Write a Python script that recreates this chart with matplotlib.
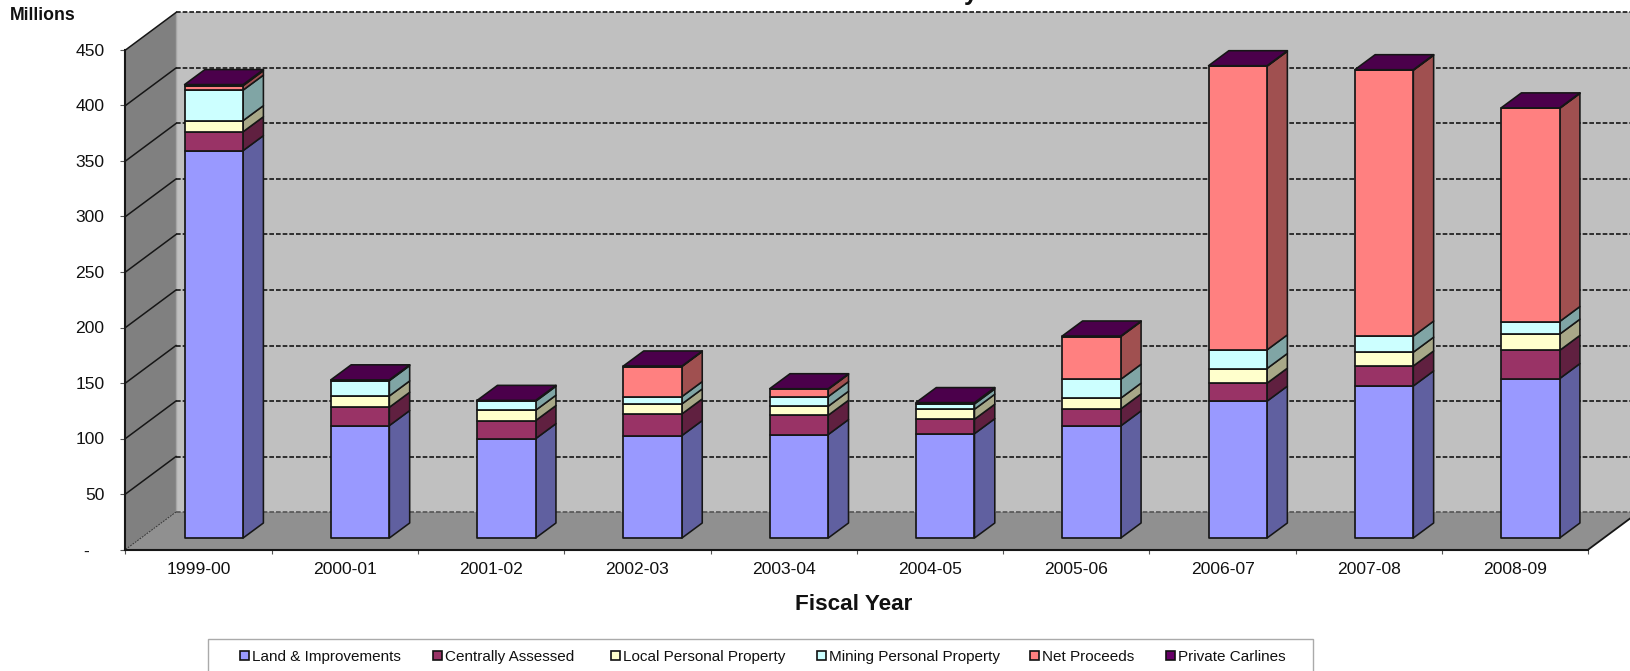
import matplotlib
matplotlib.use("Agg")
import matplotlib.pyplot as plt
from matplotlib.patches import Polygon, Patch, Rectangle

plt.rcParams['font.family'] = ['Liberation Sans', 'DejaVu Sans']

years = ['1999-00', '2000-01', '2001-02', '2002-03', '2003-04',
         '2004-05', '2005-06', '2006-07', '2007-08', '2008-09']
land = [349, 101.3, 89.5, 92.3, 93.2, 94, 101, 123.3, 137, 143.6]
central = [17, 16.5, 16.3, 19.5, 17.4, 13, 15.3, 16.2, 18, 25.4]
local = [10, 10.2, 9.3, 9, 8.1, 9, 9.7, 13.2, 12.4, 14.6]
mining = [27.5, 13.8, 8.1, 6.6, 8.7, 4.8, 17, 16.8, 14.5, 11.4]
net = [4, 0, 0, 27.1, 6.6, 0, 38.5, 255.5, 239.5, 192]
private = [1, 0.7, 0.8, 0.5, 0.5, 1.2, 0.5, 0.5, 0.5, 0.5]
series_names = ['Land & Improvements', 'Centrally Assessed', 'Local Personal Property',
                'Mining Personal Property', 'Net Proceeds', 'Private Carlines']
series = [land, central, local, mining, net, private]
front_colors = ['#9999FF', '#993366', '#FFFFCC', '#CCFFFF', '#FF8080', '#660066']
side_colors = ['#6060A0', '#602040', '#A8A888', '#80A5A5', '#A05050', '#4B004B']
top_color = '#4B004B'
y_ticks = [0, 50, 100, 150, 200, 250, 300, 350, 400, 450]

W, H = 1631, 671
fig = plt.figure(figsize=(W / 100, H / 100), dpi=100, facecolor='white')
L, R, T, B = 125.5, 1588.3, 50.0, 549.5
ax = fig.add_axes([L / W, 1 - B / H, (R - L) / W, (B - T) / H])
ax.set_xlim(0, 10)
ax.set_ylim(0, 450)
ax.patch.set_visible(False)

px_x = 10 / (R - L)
px_y = 450 / (B - T)
wall_dx, wall_dy = 50.5 * px_x, 37.5 * px_y
bar_off_x, bar_off_y = 15.2 * px_x, 11.5 * px_y
bar_dx, bar_dy = 20.3 * px_x, 15 * px_y
bar_w = 0.4
EDGE = '#161616'


def poly(pts, fc, z, ec='none', lw=0.0):
    ax.add_patch(Polygon(pts, closed=True, facecolor=fc, edgecolor=ec, linewidth=lw,
                         clip_on=False, zorder=z, joinstyle='round'))


# walls and floor
poly([(wall_dx, wall_dy), (10 + wall_dx, wall_dy), (10 + wall_dx, 450 + wall_dy), (wall_dx, 450 + wall_dy)], '#C0C0C0', 1)
poly([(0, 0), (wall_dx, wall_dy), (wall_dx, 450 + wall_dy), (0, 450)], '#808080', 1)
poly([(0, 0), (10, 0), (10 + wall_dx, wall_dy), (wall_dx, wall_dy)], '#909090', 1)
ax.plot([wall_dx, wall_dx], [wall_dy, 450 + wall_dy], color='#A6A6A6', lw=1.0, clip_on=False, zorder=1.2)

# gridlines
for v in y_ticks:
    c = '#555555' if v == 0 else '#161616'
    ax.plot([wall_dx, 10 + wall_dx], [v + wall_dy, v + wall_dy], color=c, lw=1.2,
            dashes=(2.8, 1.2), clip_on=False, zorder=1.5)
    if v == 0:
        ax.plot([0, wall_dx], [0, wall_dy], color='#333333', lw=0.7, dashes=(2, 1), clip_on=False, zorder=1.5)
    else:
        ax.plot([0, wall_dx], [v, v + wall_dy], color='#161616', lw=1.1, clip_on=False, zorder=1.5)
ax.plot([10, 10 + wall_dx], [0, wall_dy], color='#161616', lw=1.3, clip_on=False, zorder=1.6)

# stacked pseudo-3D bars
z = 3.0
for i in range(len(years)):
    x0 = i + bar_off_x + (1 - bar_w) / 2
    x1 = x0 + bar_w
    base = bar_off_y
    for s, vals in enumerate(series):
        v = vals[i]
        if v <= 0:
            continue
        top = base + v
        poly([(x1, base), (x1 + bar_dx, base + bar_dy), (x1 + bar_dx, top + bar_dy), (x1, top)],
             side_colors[s], z, EDGE, 1.15)
        poly([(x0, base), (x1, base), (x1, top), (x0, top)], front_colors[s], z + 0.001, EDGE, 1.25)
        z += 0.01
        base = top
    poly([(x0, base), (x1, base), (x1 + bar_dx, base + bar_dy), (x0 + bar_dx, base + bar_dy)],
         top_color, z, EDGE, 1.15)
    z += 0.01

# axes furniture
for sp in ('top', 'right'):
    ax.spines[sp].set_visible(False)
for sp in ('left', 'bottom'):
    ax.spines[sp].set_linewidth(1.5)
    ax.spines[sp].set_color('#161616')
    ax.spines[sp].set_zorder(2.5)
ax.set_yticks(y_ticks)
ax.set_yticklabels(['-   ' if v == 0 else str(v) for v in y_ticks], fontsize=12.6, color='#111111')
ax.tick_params(axis='y', length=3.6, width=0.8, pad=11.5, color='#555555')
ax.set_xticks([i + 0.5 for i in range(len(years))])
ax.set_xticklabels(years, fontsize=12.6, color='#111111')
ax.set_xticks(range(len(years) + 1), minor=True)
ax.tick_params(axis='x', which='major', length=0, pad=9)
ax.tick_params(axis='x', which='minor', length=3.2, width=0.8, color='#555555')

fig.text(854 / W, 1 - 604.5 / H, 'Fiscal Year', fontsize=16.2, fontweight='bold', ha='center', va='center', color='#111111')
fig.text(10.3 / W, 1 - 15.5 / H, 'Millions', fontsize=12.7, fontweight='bold', ha='left', va='center', color='#111111')
# the title is cut off by the top edge: only a descender remains visible
fig.text(971 / W, 1 - 0 / H, 'y', fontsize=18, fontweight='bold', ha='center', va='baseline', color='#111111')

# legend: frame runs off the lower edge; each entry has its own spacing as in the reference
fig.add_artist(Rectangle((208.3 / W, 1 - 675 / H), (1313.3 - 208.3) / W, (675 - 639.3) / H,
                         transform=fig.transFigure, facecolor='white', edgecolor='#AAAAAA', linewidth=1.0))
legend_x = [240, 432.7, 610.7, 817, 1030.5, 1166]
for name, color, lx in zip(series_names, front_colors, legend_x):
    handle = Patch(facecolor=color, edgecolor='#111111', linewidth=1.2)
    fig.legend([handle], [name], frameon=False, loc='center left',
               bbox_to_anchor=(lx / W, 1 - 656.7 / H), borderpad=0, borderaxespad=0,
               fontsize=11, handlelength=0.58, handleheight=0.58, handletextpad=0.2,
               labelcolor='#111111')

fig.savefig('out.png', dpi=100, facecolor='white')
